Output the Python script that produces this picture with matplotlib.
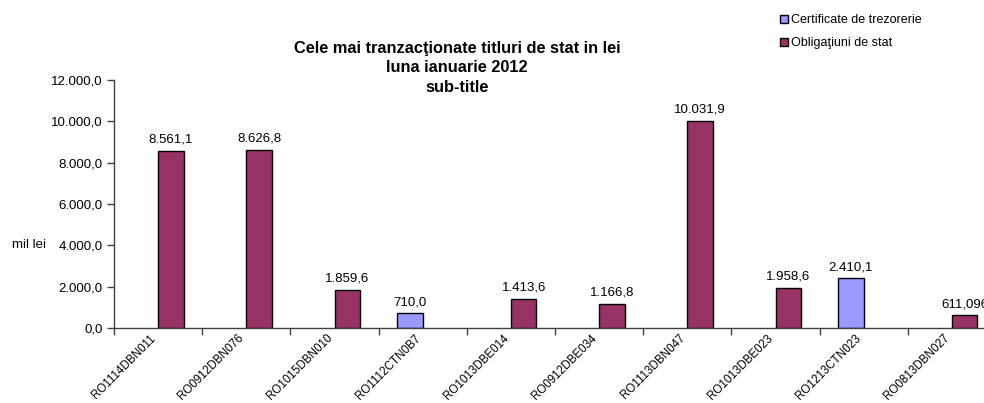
import numpy as np
import matplotlib
matplotlib.use("Agg")
import matplotlib.pyplot as plt
from matplotlib.patches import Patch
from matplotlib.ticker import FuncFormatter

plt.rcParams['font.family'] = ['Liberation Sans', 'DejaVu Sans']

# data
categories = ['RO1114DBN011', 'RO0912DBN076', 'RO1015DBN010', 'RO1112CTN0B7',
              'RO1013DBE014', 'RO0912DBE034', 'RO1113DBN047', 'RO1013DBE023',
              'RO1213CTN023', 'RO0813DBN027']
certificate = [np.nan, np.nan, np.nan, 710.0, np.nan, np.nan, np.nan, np.nan, 2410.1, np.nan]
obligatiuni = [8561.1, 8626.8, 1859.6, np.nan, 1413.6, 1166.8, 10031.9, 1958.6, np.nan, 611.096]
# decimals shown on each data label (last one is printed with 3 in the original)
oblig_decimals = [1, 1, 1, 1, 1, 1, 1, 1, 1, 3]
yticks = [0, 2000, 4000, 6000, 8000, 10000, 12000]

col_cert = '#9999FF'
col_oblig = '#993366'


def ro_fmt(v, dec=1):
    s = f"{v:,.{dec}f}"
    return s.replace(',', 'X').replace('.', ',').replace('X', '.')


fig = plt.figure(figsize=(9.84, 4.03), dpi=100)
# axes runs slightly past the right edge, like the original export
ax = fig.add_axes([114/984, 75/403, 882/984, 248/403])

x = np.arange(len(categories))
w = 0.29
ax.bar(x - w/2, certificate, w, color=col_cert, edgecolor='black', linewidth=1)
ax.bar(x + w/2, obligatiuni, w, color=col_oblig, edgecolor='black', linewidth=1)

for i, v in enumerate(certificate):
    if not np.isnan(v):
        ax.text(x[i] - w/2, v + 250, ro_fmt(v), ha='center', va='bottom', fontsize=9.5)
for i, v in enumerate(obligatiuni):
    if not np.isnan(v):
        ax.text(x[i] + w/2, v + 250, ro_fmt(v, oblig_decimals[i]), ha='center', va='bottom',
                fontsize=9.5, clip_on=False)

ax.set_xlim(-0.5, len(categories) - 0.5)
ax.set_ylim(0, 12000)
ax.set_yticks(yticks)
ax.yaxis.set_major_formatter(FuncFormatter(lambda v, p: ro_fmt(v)))
ax.tick_params(axis='y', labelsize=9.5, length=5, width=1, color='#404040', pad=3)

# tick marks between categories, labels at category centres
ax.set_xticks(np.arange(len(categories) + 1) - 0.5)
ax.set_xticklabels([])
ax.set_xticks(x, minor=True)
ax.set_xticklabels(categories, minor=True, rotation=45, ha='right', fontsize=8.4)
ax.tick_params(axis='x', which='major', length=5, width=1, color='#404040')
ax.tick_params(axis='x', which='minor', length=0, pad=3)

for s in ['top', 'right']:
    ax.spines[s].set_visible(False)
for s in ['left', 'bottom']:
    ax.spines[s].set_color('#404040')
    ax.spines[s].set_linewidth(1)

fig.text(12/984, 1 - 245/403, 'mil lei', fontsize=9.5, va='center', ha='left')

fig.text(457/984, 1 - 68/403, 'Cele mai tranzacţionate titluri de stat in lei\nluna ianuarie 2012\nsub-title',
         ha='center', va='center', fontsize=11.8, fontweight='bold', linespacing=1.38)

handles = [Patch(facecolor=col_cert, edgecolor='black', linewidth=1),
           Patch(facecolor=col_oblig, edgecolor='black', linewidth=1)]
fig.legend(handles, ['Certificate de trezorerie', 'Obligaţiuni de stat'],
           loc='upper left', bbox_to_anchor=(775/984, 1 - 9/403), frameon=False,
           fontsize=9, handlelength=0.6, handleheight=0.6, handletextpad=0.3,
           labelspacing=0.9, borderaxespad=0)

fig.savefig('out.png', dpi=100)
